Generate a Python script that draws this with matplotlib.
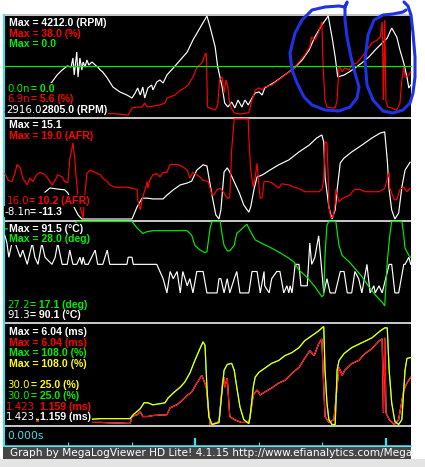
import matplotlib
matplotlib.use("Agg")
import matplotlib.pyplot as plt
from matplotlib.patches import Rectangle

W, H = 425, 467
T_END = 6.394  # seconds across the graph

WHITE, RED, GREEN, YELLOW = "#ffffff", "#ff0000", "#00ee00", "#ffff00"
CYAN = "#33e4f0"
SEP = "#c4c4c4"

# ---------------- data: time (s) / value ----------------
rpm_t = [0.70, 0.74, 0.82, 0.90, 0.98, 1.04, 1.07, 1.09, 1.13, 1.15, 1.18, 1.21, 1.23, 1.26, 1.29,
         1.32, 1.37, 1.42, 1.46, 1.50, 1.54, 1.61, 1.70, 1.81, 1.92, 2.00, 2.05, 2.09, 2.13, 2.17,
         2.20, 2.25, 2.31, 2.33, 2.39, 2.44, 2.49, 2.55, 2.65, 2.76, 2.87, 2.96, 3.07, 3.18, 3.23,
         3.31, 3.35, 3.42, 3.46, 3.51, 3.57, 3.62, 3.67, 3.73, 3.78, 3.83, 3.89, 3.94, 4.00, 4.05,
         4.09, 4.17, 4.25, 4.36, 4.47, 4.57, 4.68, 4.79, 4.88, 4.99, 5.09, 5.15, 5.20, 5.24, 5.34,
         5.42, 5.51, 5.62, 5.73, 5.83, 5.94, 6.02, 6.09, 6.17, 6.22, 6.28, 6.33, 6.36, 6.39]
rpm = [3241, 3283, 3382, 3452, 3509, 3494, 3621, 3382, 3705, 3354, 3621, 3452, 3565, 3494, 3593,
       3523, 3565, 3523, 3494, 3452, 3424, 3340, 3213, 3143, 3100, 3058, 3129, 3199, 3100, 3213,
       3058, 3199, 3241, 3171, 3283, 3312, 3269, 3382, 3480, 3593, 3705, 3874, 4043, 4212, 4057,
       3776, 3494, 3213, 2988, 2932, 3002, 2918, 3030, 2932, 3030, 2960, 3058, 3129, 3143, 3100,
       3199, 3241, 3283, 3354, 3424, 3494, 3593, 3734, 3917, 4085, 4212, 3917, 3635, 3354, 3382,
       3424, 3480, 3551, 3635, 3734, 3832, 3902, 4043, 3917, 3734, 3551, 3354, 3199, 3241]

tps_t = [0.00, 1.50, 1.81, 1.94, 2.00, 2.08, 2.16, 2.20, 2.24, 2.33, 2.44, 2.52, 2.55, 2.60, 2.68,
         2.76, 2.83, 2.88, 2.96, 3.02, 3.10, 3.15, 3.17, 3.19, 3.23, 3.31, 3.35, 3.38, 3.42, 3.45,
         3.48, 3.51, 3.53, 3.56, 3.61, 3.70, 3.81, 3.84, 3.89, 3.94, 4.00, 4.05, 4.09, 4.20, 4.31,
         4.41, 4.52, 4.63, 4.72, 4.80, 4.83, 4.88, 4.94, 4.99, 5.01, 5.04, 5.07, 5.15, 5.20, 5.23,
         5.26, 5.28, 5.31, 5.35, 5.42, 5.46, 5.54, 5.62, 5.70, 5.78, 5.86, 5.91, 5.94, 5.96, 5.98,
         6.00, 6.03, 6.09, 6.17, 6.22, 6.25, 6.28, 6.30, 6.36, 6.39]
tps = [6.9, 6.6, 6.2, 5.9, 8.2, 8.5, 8.5, 9.8, 8.5, 8.8, 9.2, 9.8, 11.4, 11.8, 12.4,
       14.0, 14.7, 15.6, 18.2, 21.2, 22.8, 25.4, 26.0, 8.5, 8.2, 7.5, 9.2, 17.3, 18.2, 13.1,
       17.3, 15.0, 10.8, 8.2, 6.6, 6.2, 6.6, 6.6, 10.8, 14.0, 14.7, 14.0, 15.0, 15.6, 17.3,
       18.9, 20.5, 23.1, 25.4, 28.0, 31.2, 30.2, 32.8, 36.1, 21.5, 10.8, 8.5, 8.2, 8.2, 10.8,
       21.5, 21.5, 19.9, 21.2, 20.5, 22.1, 22.8, 24.7, 27.0, 29.3, 30.2, 31.2, 36.1, 10.8, 36.7,
       10.3, 8.5, 8.2, 7.5, 9.8, 17.3, 21.5, 18.2, 18.9, 19.9]

flat_t = [0.0, T_END]
flat = [0.0, 0.0]

ego_t = [0.63, 0.71, 0.83, 0.94, 0.99, 1.07, 1.15, 1.21, 2.00, 2.08, 2.16, 2.24, 2.33, 2.49, 2.55,
         2.65, 2.76, 2.87, 2.94, 3.02, 3.12, 3.18, 3.26, 3.32, 3.37, 3.40, 3.45, 3.50, 3.54, 3.61,
         3.69, 3.76, 3.84, 3.87, 3.92, 3.97, 4.05, 4.17, 4.31, 4.47, 4.63, 4.79, 4.91, 4.99, 5.02,
         5.04, 5.10, 5.15, 5.20, 5.23, 5.28, 5.34, 5.46, 5.62, 5.78, 5.91, 5.98, 6.02, 6.05, 6.09,
         6.14, 6.20, 6.25, 6.30, 6.38]
ego = [-4.2, -3.1, -3.4, -3.6, -4.4, -7.6, -10.2, -11.3, -11.3, -8.1, -5.8, -5.8, -6.0, -6.0, -5.0,
       -3.6, -2.3, -1.8, -1.3, 1.6, 3.0, 2.7, -5.0, -10.2, -11.3, -8.9, 1.1, 2.2, 1.1, -1.5,
       -4.4, -7.6, -9.5, -8.1, -3.6, -0.2, 0.3, 1.6, 3.0, 4.3, 6.4, 8.2, 10.1, 10.9, 9.0,
       -0.2, -8.1, -11.3, -8.9, -3.6, 3.5, 4.8, 6.4, 8.2, 10.1, 11.4, 11.7, 4.3, -3.6, -8.9,
       -11.3, -9.7, -2.9, 1.6, 3.7]

afr_t = [0.00, 0.05, 0.11, 0.16, 0.19, 0.24, 0.28, 0.35, 0.39, 0.44,
         0.50, 0.55, 0.60, 0.66, 0.74, 0.79, 0.83, 0.90, 0.94, 0.99,
         1.02, 1.07, 1.10, 1.12, 1.15, 1.18, 1.23, 1.26, 1.29, 1.34,
         1.42, 1.50, 1.54, 1.61, 1.65, 1.73, 1.81, 1.92, 2.02, 2.08,
         2.09, 2.13, 2.16, 2.17, 2.24, 2.25, 2.28, 2.33, 2.39, 2.44,
         2.49, 2.55, 2.60, 2.65, 2.71, 2.80, 2.87, 2.91, 2.96, 3.07,
         3.12, 3.20, 3.26, 3.29, 3.34, 3.39, 3.45, 3.50, 3.54, 3.57,
         3.61, 3.83, 3.84, 3.87, 3.91, 3.94, 3.97, 4.00, 4.02, 4.05,
         4.08, 4.13, 4.20, 4.31, 4.36, 4.47, 4.55, 4.63, 4.72, 4.83,
         4.94, 4.99, 5.02, 5.04, 5.07, 5.09, 5.10, 5.13, 5.17, 5.20,
         5.21, 5.26, 5.31, 5.35, 5.43, 5.50, 5.59, 5.67, 5.78, 5.89,
         5.98, 6.05, 6.06, 6.13, 6.17, 6.22, 6.28, 6.33, 6.38]
afr = [14.2, 13.6, 13.5, 14.3, 15.0, 14.7, 13.8, 13.2, 13.8, 13.5,
       14.1, 14.3, 14.2, 13.9, 13.2, 13.6, 14.1, 13.9, 13.5, 13.4,
       15.4, 16.9, 15.4, 13.9, 12.1, 11.3, 10.3, 12.5, 14.2, 14.5,
       14.3, 14.1, 13.8, 13.5, 13.2, 13.0, 13.0, 13.0, 12.9, 12.8,
       11.9, 11.0, 11.9, 12.1, 13.5, 12.9, 13.6, 14.1, 14.2, 13.9,
       14.3, 14.3, 15.0, 15.0, 15.0, 14.8, 14.5, 13.8, 14.3, 13.9,
       13.6, 13.5, 12.3, 12.3, 12.8, 12.9, 12.5, 12.0, 12.1, 16.3,
       19.0, 19.0, 17.4, 14.5, 13.0, 13.9, 15.1, 13.0, 12.0, 12.1,
       13.5, 13.5, 13.4, 12.9, 13.3, 13.2, 13.0, 12.9, 12.6, 12.6,
       12.6, 12.8, 13.6, 17.0, 16.9, 13.9, 11.3, 10.3, 10.4, 11.6,
       12.8, 11.7, 12.0, 12.1, 12.3, 12.8, 12.8, 12.6, 12.6, 12.6,
       12.9, 14.3, 12.9, 11.9, 11.9, 12.8, 13.0, 12.6, 12.9]

clt_t = [0.00, 0.03, 0.06, 0.11, 0.16, 0.24, 0.28, 0.35, 0.43, 0.47,
         0.52, 0.58, 0.63, 0.74, 0.79, 0.83, 0.90, 0.98, 1.02, 1.07,
         1.13, 1.18, 1.21, 1.23, 1.26, 1.31, 1.42, 1.46, 1.54, 1.61,
         1.65, 1.92, 1.94, 2.00, 2.02, 2.39, 2.44, 2.49, 2.55, 2.60,
         2.65, 2.71, 2.76, 2.80, 2.87, 2.91, 2.96, 3.02, 3.12, 3.18,
         3.26, 3.34, 3.37, 3.40, 3.45, 3.50, 3.54, 3.61, 3.65, 3.70,
         3.84, 3.89, 3.97, 4.02, 4.08, 4.09, 4.16, 4.20, 4.28, 4.33,
         4.39, 4.44, 4.47, 4.49, 4.52, 4.57, 4.63, 4.66, 4.71, 4.76,
         4.80, 4.83, 4.88, 4.94, 4.98, 5.02, 5.07, 5.12, 5.20, 5.28,
         5.34, 5.39, 5.46, 5.51, 5.57, 5.62, 5.70, 5.75, 5.81, 5.83,
         5.89, 5.94, 6.05, 6.09, 6.14, 6.20, 6.28, 6.30, 6.36, 6.39]
clt = [91.3, 91.2, 91.0, 91.2, 91.2, 91.0, 91.1, 90.9, 91.2, 91.0,
       90.9, 91.2, 91.0, 90.9, 91.0, 91.2, 90.9, 90.9, 91.1, 90.9,
       90.9, 91.0, 90.9, 91.0, 90.9, 90.9, 91.1, 90.9, 90.9, 91.1,
       90.9, 90.9, 91.0, 91.0, 90.9, 90.9, 90.8, 90.7, 90.5, 90.8,
       90.7, 90.8, 90.5, 90.8, 90.6, 90.7, 90.5, 90.8, 90.8, 90.5,
       90.5, 90.5, 90.7, 90.7, 90.5, 90.7, 90.5, 90.7, 90.8, 90.5,
       90.5, 90.8, 90.8, 90.5, 90.8, 90.6, 90.5, 90.7, 90.8, 90.8,
       90.5, 90.6, 90.5, 90.6, 90.5, 90.9, 90.9, 90.6, 90.6, 90.6,
       91.2, 90.9, 91.0, 91.3, 90.9, 90.5, 90.7, 90.5, 90.5, 90.8,
       90.8, 90.5, 90.5, 90.8, 90.7, 90.5, 90.9, 90.5, 90.6, 90.5,
       90.6, 90.5, 90.9, 90.9, 90.5, 90.5, 90.9, 90.9, 91.0, 90.9]

adv_t = [0.00, 1.05, 1.13, 2.00, 2.08, 2.17, 2.24, 2.33, 2.55, 2.87,
         2.94, 2.99, 3.07, 3.15, 3.18, 3.23, 3.26, 3.39, 3.42, 3.45,
         3.50, 3.54, 3.61, 3.65, 3.70, 3.76, 3.81, 3.86, 3.94, 4.05,
         4.17, 4.33, 4.47, 4.55, 4.63, 4.76, 4.88, 4.99, 5.02, 5.04,
         5.07, 5.10, 5.21, 5.26, 5.31, 5.42, 5.51, 5.62, 5.73, 5.83,
         5.94, 5.98, 6.02, 6.06, 6.09, 6.25, 6.28, 6.30, 6.36, 6.39]
adv = [27.2, 27.2, 28.0, 28.0, 27.3, 26.7, 26.9, 27.0, 27.0, 27.0,
       26.5, 25.4, 24.9, 24.6, 24.7, 27.3, 28.0, 28.0, 26.5, 25.4,
       24.8, 24.8, 25.4, 26.7, 27.0, 27.4, 27.7, 27.0, 26.0, 25.6,
       25.2, 24.6, 24.0, 23.6, 22.7, 21.9, 20.9, 19.8, 20.0, 24.3,
       27.6, 28.0, 28.0, 25.4, 24.3, 23.6, 22.9, 22.0, 20.9, 20.0,
       19.2, 18.8, 23.6, 26.5, 28.0, 28.0, 26.5, 25.1, 24.3, 24.1]

pw_t = [0.00, 1.02, 1.50, 1.97, 2.00, 2.08, 2.13, 2.17, 2.25, 2.33,
        2.55, 2.60, 2.71, 2.80, 2.88, 2.94, 3.02, 3.10, 3.13, 3.17,
        3.20, 3.23, 3.26, 3.37, 3.43, 3.45, 3.46, 3.50, 3.54, 3.61,
        3.72, 3.84, 3.87, 3.91, 3.97, 4.02, 4.09, 4.20, 4.31, 4.41,
        4.52, 4.63, 4.72, 4.80, 4.87, 4.94, 4.99, 5.02, 5.04, 5.10,
        5.18, 5.21, 5.26, 5.31, 5.35, 5.46, 5.57, 5.67, 5.78, 5.89,
        5.94, 5.96, 5.98, 6.00, 6.05, 6.13, 6.20, 6.28, 6.33, 6.39]
pw = [1.42, 1.26, 1.26, 1.21, 1.55, 1.64, 1.79, 1.55, 1.55, 1.60,
      1.64, 1.98, 2.13, 2.37, 2.61, 2.75, 3.19, 3.57, 3.33, 2.99,
      2.03, 1.16, 1.16, 1.30, 3.33, 3.48, 2.99, 3.43, 1.55, 1.40,
      1.26, 1.26, 1.74, 2.61, 2.85, 2.61, 2.75, 2.95, 3.19, 3.33,
      3.67, 3.96, 4.40, 4.78, 4.54, 5.12, 5.36, 2.99, 1.55, 1.26,
      1.40, 2.37, 3.96, 3.57, 3.82, 4.15, 4.30, 4.64, 4.88, 5.26,
      5.36, 1.74, 5.41, 1.74, 1.40, 1.16, 1.40, 2.85, 3.19, 3.48]

duty_t = [0.00, 1.10, 1.50, 1.97, 2.02, 2.13, 2.19, 2.25, 2.33, 2.52,
          2.57, 2.65, 2.76, 2.83, 2.91, 2.99, 3.07, 3.12, 3.15, 3.18,
          3.21, 3.26, 3.37, 3.40, 3.45, 3.50, 3.57, 3.61, 3.65, 3.70,
          3.76, 3.84, 3.86, 3.91, 3.94, 4.00, 4.09, 4.20, 4.31, 4.41,
          4.52, 4.63, 4.72, 4.83, 4.94, 5.01, 5.02, 5.04, 5.07, 5.10,
          5.15, 5.20, 5.23, 5.26, 5.34, 5.46, 5.62, 5.78, 5.91, 5.98,
          6.02, 6.05, 6.09, 6.14, 6.20, 6.25, 6.30, 6.33, 6.39]
duty = [30.0, 28.3, 29.9, 29.9, 33.2, 38.2, 43.1, 43.1, 41.4, 43.1,
        47.2, 51.3, 56.2, 60.3, 67.7, 78.4, 88.3, 94.0, 91.0, 56.2,
        31.6, 25.0, 26.6, 43.1, 70.2, 75.1, 76.0, 70.2, 56.2, 39.8,
        29.1, 25.8, 31.6, 56.2, 64.5, 68.6, 71.9, 76.0, 78.4, 82.5,
        85.0, 89.1, 94.9, 99.0, 103.1, 106.4, 106.4, 70.2, 43.1, 29.1,
        25.0, 25.0, 70.2, 78.4, 84.2, 89.1, 93.2, 97.3, 103.1, 105.6,
        105.6, 70.2, 43.1, 27.5, 25.0, 29.1, 70.2, 80.1, 80.9]

time_major = [3, 6]
time_minor = [1, 2, 4, 5]

# header labels (text, colour) and bottom labels (cursor text, min text, colour)
labels_top = [
    [("Max = 4212.0 (RPM)", WHITE), ("Max = 38.0 (%)", RED), ("Max = 0.0", GREEN)],
    [("Max = 15.1", WHITE), ("Max = 19.0 (AFR)", RED)],
    [("Max = 91.5 (\u00b0C)", WHITE), ("Max = 28.0 (deg)", GREEN)],
    [("Max = 6.04 (ms)", WHITE), ("Max = 6.04 (ms)", RED),
     ("Max = 108.0 (%)", GREEN), ("Max = 108.0 (%)", YELLOW)],
]
labels_bottom = [
    [("0.0n", "= 0.0", GREEN), ("6.9n", "= 5.6 (%)", RED), ("2916.0", "2805.0 (RPM)", WHITE)],
    [("16.0", "= 10.2 (AFR)", RED), ("-8.1n", "= -11.3", WHITE)],
    [("27.2", "= 17.1 (deg)", GREEN), ("91.3", "= 90.1 (\u00b0C)", WHITE)],
    [("30.0", "= 25.0 (%)", YELLOW), ("30.0", "= 25.0 (%)", GREEN),
     ("1.423", "1.159 (ms)", RED), ("1.423", "1.159 (ms)", WHITE)],
]

# panels: pixel top/bottom of the trace area, series (t, v, min, max, colour)
panels = [
    (16, 116, [(rpm_t, rpm, 2805.0, 4212.0, WHITE), (tps_t, tps, 5.6, 38.0, RED),
               (flat_t, flat, -1.0, 1.0, GREEN)]),
    (119, 219, [(ego_t, ego, -11.3, 15.1, WHITE), (afr_t, afr, 10.2, 19.0, RED)]),
    (221.5, 321.5, [(clt_t, clt, 90.1, 91.5, WHITE), (adv_t, adv, 17.1, 28.0, GREEN)]),
    (325, 424.5, [(pw_t, pw, 1.159, 6.04, WHITE), (pw_t, pw, 1.159, 6.04, RED),
                  (duty_t, duty, 25.0, 108.0, GREEN), (duty_t, duty, 25.0, 108.0, YELLOW)]),
]
top_base = [26, 128.3, 231.7, 335]
bot_base = [91.7, 204, 307.7, 388.3]
thin_x = [[7, 7, 6], [7, 5], [7, 7], [7, 7, 6, 6]]
bold_x = [[31, 31, 42], [29, 30], [30, 30], [31, 31, 40, 40]]

# hand-drawn marker loops (screen pixels)
loop1 = [(347, 3), (345, 7), (339, 6), (325, 7), (312, 10), (302, 20), (295, 33), (290, 53),
         (292, 70), (297, 83), (304, 97), (312, 105), (325, 110), (339, 111), (350, 107),
         (357, 98), (359, 87), (355, 73), (351, 57), (347, 37), (345, 20), (345, 7), (347, 2)]
loop2 = [(406, 10), (403, 12), (393, 14), (383, 15), (374, 20), (368, 35), (365, 60), (367, 85),
         (373, 100), (383, 111), (393, 113), (403, 110), (410, 103), (413, 93), (415, 77),
         (415, 57), (413, 33), (411, 15), (408, 6), (404, 2)]


def frac(x0, y0, x1, y1):
    return [x0 / W, 1 - y1 / H, (x1 - x0) / W, (y1 - y0) / H]


fig = plt.figure(figsize=(W / 100, H / 100), dpi=100, facecolor="white")

ui = fig.add_axes([0, 0, 1, 1], zorder=0)
ui.set_xlim(0, W)
ui.set_ylim(H, 0)
ui.axis("off")


def box(x0, y0, x1, y1, color):
    ui.add_patch(Rectangle((x0, y0), x1 - x0, y1 - y0, facecolor=color, edgecolor="none"))


box(5, 16, 411, 446, "black")
box(3, 14, 411, 16, SEP)
for y0, y1 in [(116.5, 118.5), (219.5, 221.5), (322, 324), (425, 427)]:
    box(5, y0, 411, y1, SEP)
box(3, 14, 4.6, 446.5, CYAN)
box(0, 459, W, H, "#e4e4e4")

# traces
for top, bottom, series in panels:
    base = fig.add_axes(frac(5, top, 411, bottom), zorder=2)
    base.set_xlim(0, T_END)
    base.axis("off")
    for i, (t, v, lo, hi, c) in enumerate(series):
        ax = base if i == 0 else base.twinx()
        ax.set_xlim(0, T_END)
        ax.set_ylim(lo, hi)
        ax.axis("off")
        ax.plot(t, v, color=c, lw=0.85, clip_on=False, solid_joinstyle="miter")

# time axis
tax = fig.add_axes(frac(5, 427, 411, 445.8), zorder=3)
tax.set_facecolor("black")
tax.set_xlim(0, T_END)
tax.set_ylim(0, 1)
tax.set_yticks([])
tax.set_xticks(time_major)
tax.set_xticks(time_minor, minor=True)
tax.tick_params(axis="x", which="major", direction="in", length=6, width=1.6,
                color=CYAN, labelbottom=False)
tax.tick_params(axis="x", which="minor", direction="in", length=2.8, width=0.8, color=CYAN)
for s in ["top", "left", "right"]:
    tax.spines[s].set_visible(False)
tax.spines["bottom"].set_color(CYAN)
tax.spines["bottom"].set_linewidth(1.1)

# footer (text is cut at the right edge of the bar, as in the viewer)
foot = fig.add_axes(frac(3, 446.5, 411, 459), zorder=3)
foot.set_facecolor("#464646")
foot.set_xticks([])
foot.set_yticks([])
for s in foot.spines.values():
    s.set_visible(False)
foot.text(10, 455.7, "Graph by MegaLogViewer HD Lite! 4.1.15 http://www.efianalytics.com/Mega",
          transform=ui.transData, color="white", fontsize=7.6, family="DejaVu Sans",
          va="baseline", clip_on=True)

# labels on top of the traces
lab = fig.add_axes([0, 0, 1, 1], zorder=10)
lab.set_xlim(0, W)
lab.set_ylim(H, 0)
lab.axis("off")
lab.patch.set_alpha(0)

BOLD = dict(family="Liberation Sans", fontweight="bold", fontsize=7.6, va="baseline")
THIN = dict(family="DejaVu Sans", fontsize=7.4, va="baseline")
STEP = 10.7

items = []
for p in range(4):
    for k, (s, c) in enumerate(labels_top[p]):
        items.append((9, top_base[p] + k * STEP, s, c, BOLD))
    for k, (thin, bold, c) in enumerate(labels_bottom[p]):
        y = bot_base[p] + k * STEP
        items.append((thin_x[p][k], y, thin, c, THIN))
        items.append((bold_x[p][k], y, bold, c, BOLD))

for x, y, s, c, st in items:
    lab.text(x, y, s, color="black", bbox=dict(facecolor="black", edgecolor="none", pad=0.5), **st)
for x, y, s, c, st in items:
    lab.text(x, y, s, color=c, **st)

lab.text(7, 438.7, "0.000s", color=CYAN, fontsize=7.7, family="DejaVu Sans", va="baseline")

# blue marker loops
for loop in (loop1, loop2):
    lab.plot([p[0] for p in loop], [p[1] for p in loop], color="#1e32e6", lw=2.2,
             solid_capstyle="round", solid_joinstyle="round", clip_on=False)

fig.savefig("out.png", dpi=100, facecolor="white")
